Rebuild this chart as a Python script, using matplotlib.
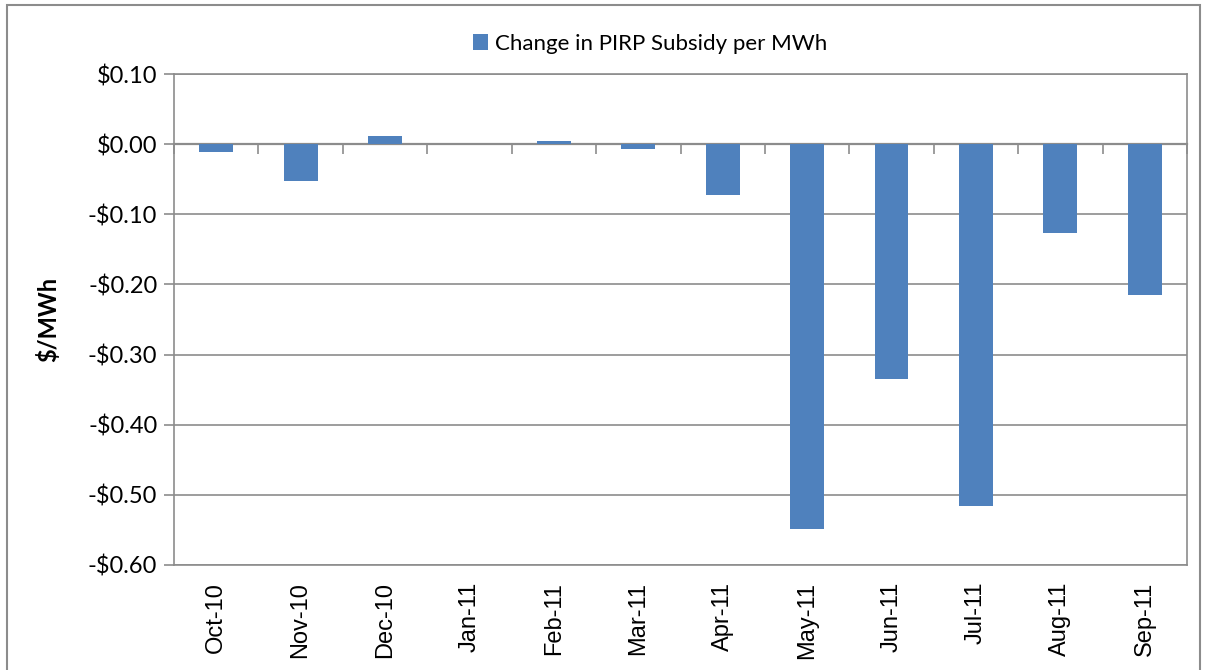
import matplotlib.pyplot as plt
import numpy as np
from matplotlib.patches import Rectangle

# data
months = ['Oct-10', 'Nov-10', 'Dec-10', 'Jan-11', 'Feb-11', 'Mar-11',
          'Apr-11', 'May-11', 'Jun-11', 'Jul-11', 'Aug-11', 'Sep-11']
change = [-0.011, -0.052, 0.011, 0.0, 0.004, -0.0065,
          -0.073, -0.549, -0.335, -0.516, -0.127, -0.215]
yticks = [0.10, 0.0, -0.10, -0.20, -0.30, -0.40, -0.50, -0.60]
series_name = 'Change in PIRP Subsidy per MWh'

bar_color = '#4F81BD'
axis_gray = '#8C8C8C'

fig = plt.figure(figsize=(12.07, 6.70), dpi=100)
ax = fig.add_axes([174 / 1207, 1 - 565 / 670, (1187 - 174) / 1207, (565 - 74) / 670])

x = np.arange(len(months))
ax.bar(x, change, width=0.4, color=bar_color, label=series_name, zorder=3)

ax.set_xlim(-0.5, len(months) - 0.5)
ax.set_ylim(-0.60, 0.10)
ax.set_yticks(yticks)
ax.set_yticklabels(['$0.00' if v == 0 else ('-$%.2f' % -v if v < 0 else '$%.2f' % v) for v in yticks],
                   fontsize=17, family='Lato')
ax.yaxis.grid(True, color=axis_gray, linewidth=1.2, zorder=0)
ax.tick_params(axis='y', direction='out', length=7, width=1.2, color=axis_gray, pad=5)

ax.set_xticks(x)
ax.set_xticklabels(months, rotation=90, fontsize=17, family='Liberation Sans')
ax.tick_params(axis='x', length=0, pad=12)

for s in ax.spines.values():
    s.set_color(axis_gray)
    s.set_linewidth(1.2)

# category axis crossing at zero, ticks between categories
sec = ax.secondary_xaxis(0.6 / 0.7)
sec.xaxis.set_ticks_position('bottom')
sec.set_xticks(np.arange(len(months) + 1) - 0.5)
sec.set_xticklabels([])
sec.tick_params(direction='out', length=7, width=1.2, color=axis_gray)
for s in sec.spines.values():
    s.set_color(axis_gray)
    s.set_linewidth(1.6)

ax.set_ylabel('$/MWh', fontsize=17, fontweight='bold', family='Lato', labelpad=20)

leg = ax.legend(loc='lower center', bbox_to_anchor=(0.47, 1.0), frameon=False,
                prop={'family': 'Lato', 'size': 16}, handlelength=0.7, handleheight=0.7,
                handletextpad=0.3, borderaxespad=0.5)

# outer chart border
fig.patches.append(Rectangle((7 / 1207, -0.05), (1200 - 7) / 1207, 1.05 - 5 / 670,
                             transform=fig.transFigure, fill=False,
                             edgecolor=axis_gray, linewidth=1.5))

fig.savefig('out.png', dpi=100)
